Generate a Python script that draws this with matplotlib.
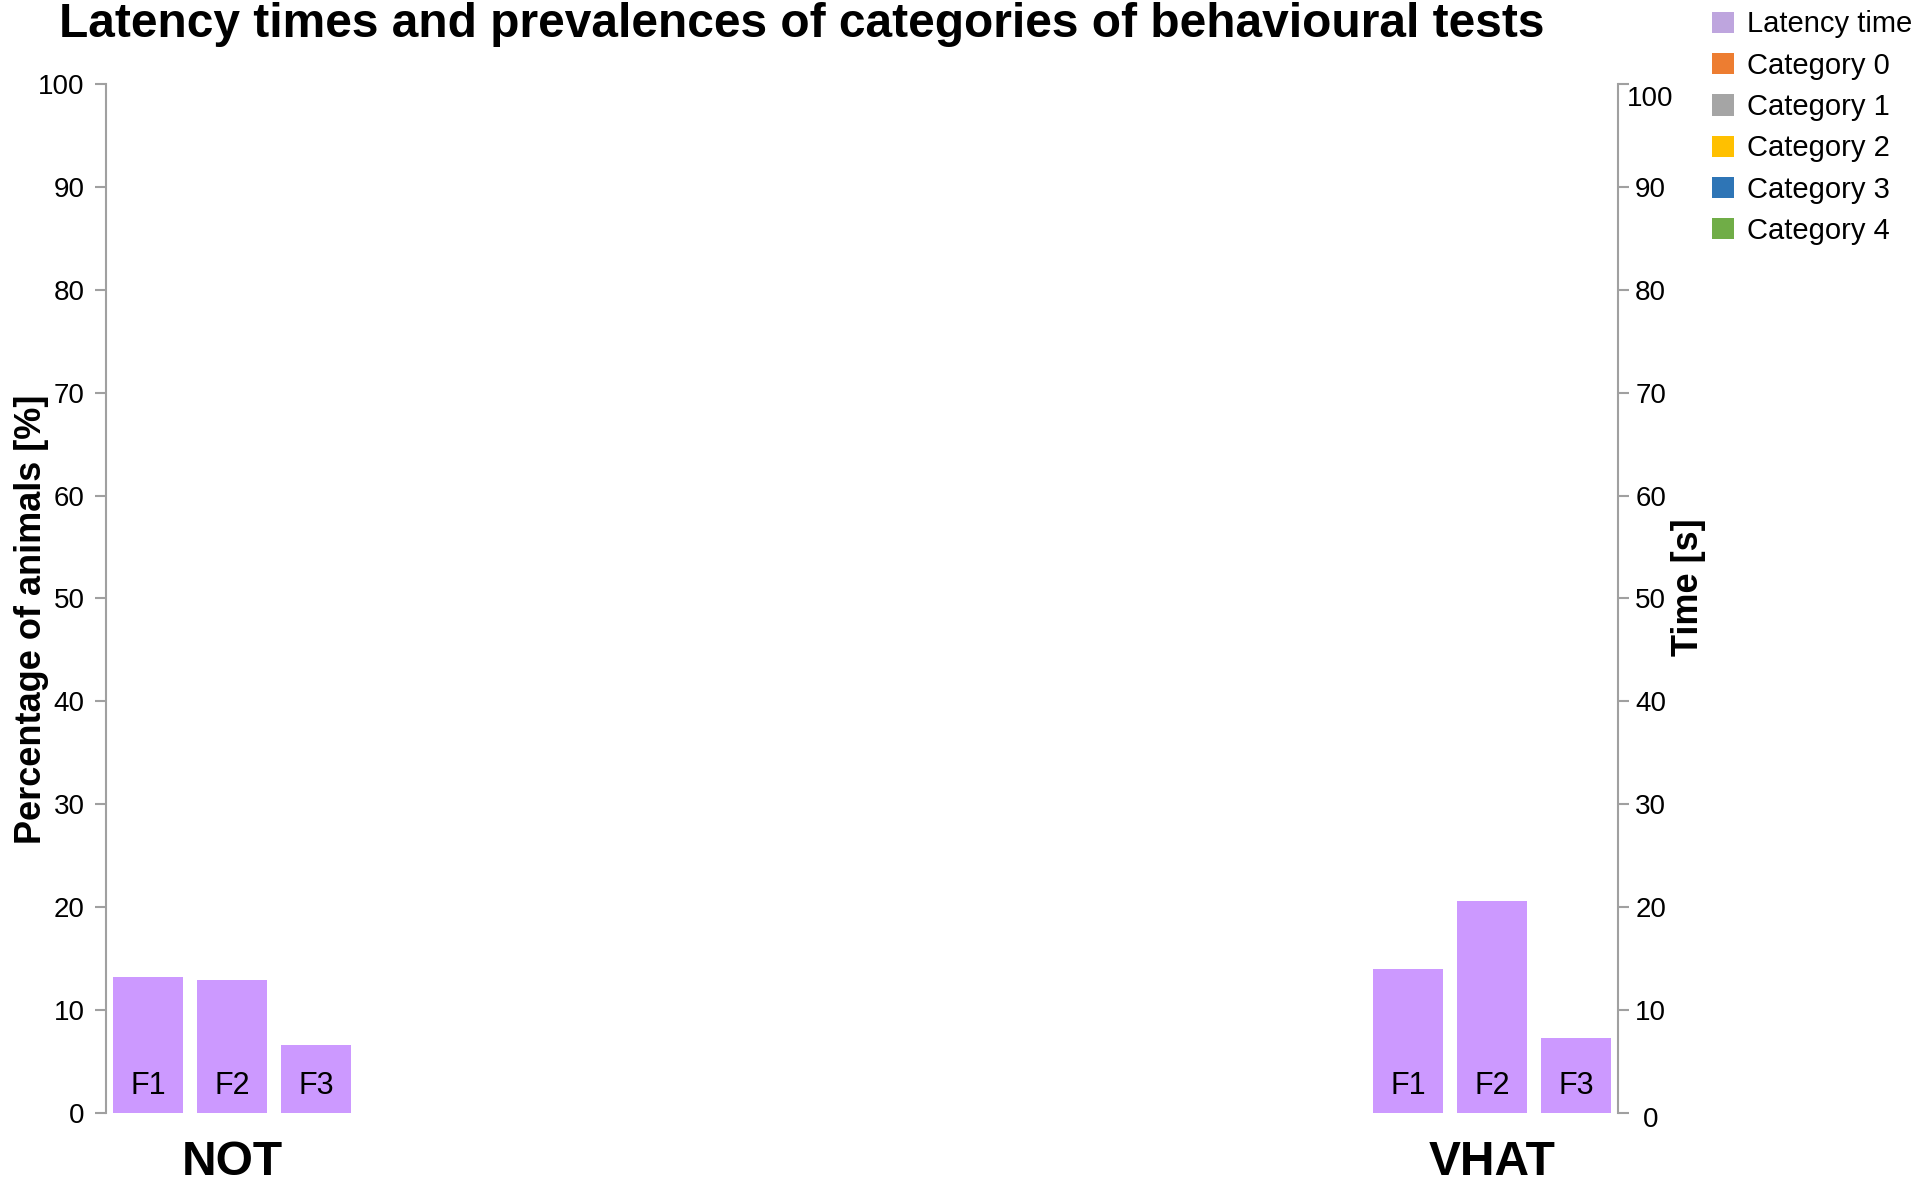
import numpy as np
import matplotlib
matplotlib.use("Agg")
import matplotlib.pyplot as plt
import matplotlib.transforms as mtransforms
from matplotlib.patches import Patch

plt.rcParams['font.family'] = ['Liberation Sans', 'DejaVu Sans']

# data
tests = ['NOT', 'VHAT']
test_slots = [1, 16]            # centre slot of each test group on the x axis
phases = ['F1', 'F2', 'F3']
latency = {'NOT': [13.2, 12.9, 6.6],
           'VHAT': [14.0, 20.6, 7.3]}   # seconds
categories = ['Category 0', 'Category 1', 'Category 2', 'Category 3', 'Category 4']
cat_share = {'NOT': [0, 0, 0, 0, 0],
             'VHAT': [0, 0, 0, 0, 0]}    # % of animals, nothing shown in the chart
cat_colors = ['#ed7d31', '#a5a5a5', '#ffc000', '#2e75b6', '#70ad47']
bar_color = '#cc99ff'
legend_latency_color = '#bea5de'
y_ticks = np.arange(0, 101, 10)

fig = plt.figure(figsize=(19.17, 11.8), dpi=100)
ax = fig.add_axes([0.0553, 0.0568, 0.7887, 0.872])
ax2 = ax.twinx()

spine_col = '#a0a0a0'
for a in (ax, ax2):
    a.set_ylim(0, 100)
    a.set_xlim(-0.5, 17.5)
    a.set_yticks(y_ticks)
    a.spines['top'].set_visible(False)
    a.spines['bottom'].set_visible(False)
    a.tick_params(axis='x', bottom=False, labelbottom=False)
    a.tick_params(axis='y', length=8, width=1.5, color=spine_col, labelsize=20)
ax.spines['right'].set_visible(False)
ax.spines['left'].set_color(spine_col)
ax.spines['left'].set_linewidth(1.5)
ax2.spines['left'].set_visible(False)
ax2.spines['right'].set_color(spine_col)
ax2.spines['right'].set_linewidth(1.5)
ax.tick_params(axis='y', pad=7.5)
ax2.tick_params(axis='y', pad=15.5)
for lab in ax2.get_yticklabels():
    lab.set_horizontalalignment('center')
# Excel nudged the end labels of the right axis down a little
labs = ax2.get_yticklabels()
labs[-1].set_transform(labs[-1].get_transform() + mtransforms.ScaledTranslation(0, -12 / 100, fig.dpi_scale_trans))
labs[0].set_transform(labs[0].get_transform() + mtransforms.ScaledTranslation(0, -4 / 100, fig.dpi_scale_trans))

width = 0.83
for t, slot in zip(tests, test_slots):
    xs = slot + np.arange(len(phases)) - 1
    # stacked category shares (percent axis)
    bottom = 0
    for c, col, v in zip(categories, cat_colors, cat_share[t]):
        ax.bar(slot, v, width, bottom=bottom, color=col, linewidth=0)
        bottom += v
    ax2.bar(xs, latency[t], width, color=bar_color, linewidth=0)
    for x, p in zip(xs, phases):
        ax2.text(x, 2.6, p, ha='center', va='center', fontsize=22)
    ax.text(slot, -0.048, t, transform=ax.get_xaxis_transform(), ha='center', va='center',
            fontsize=34.5, fontweight='bold')

ax.set_ylabel('Percentage of animals [%]', fontsize=26, fontweight='bold')
ax.yaxis.set_label_coords(-0.0377, 0.48)
ax2.set_ylabel('Time [s]', fontsize=26, fontweight='bold')
ax2.yaxis.set_label_coords(1.035, 0.511)

fig.text(0.031, 0.979, 'Latency times and prevalences of categories of behavioural tests',
         ha='left', va='center', fontsize=34.5, fontweight='bold')

handles = [Patch(facecolor=legend_latency_color, label='Latency time')]
handles += [Patch(facecolor=col, label=c) for c, col in zip(categories, cat_colors)]
fig.legend(handles=handles, loc='upper left', bbox_to_anchor=(0.887, 1.001), frameon=False,
           fontsize=21, handlelength=0.75, handleheight=0.75, handletextpad=0.45,
           labelspacing=0.456, borderaxespad=0)

fig.savefig('out.png', dpi=100)
